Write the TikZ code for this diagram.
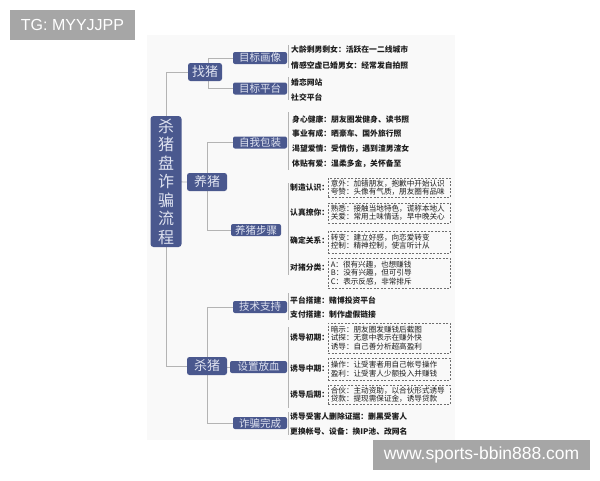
\documentclass[tikz,border=0pt]{standalone}
\usepackage{fontspec}
\newfontfamily\cjk{Noto Sans CJK SC}
\newfontfamily\latf{Liberation Sans}
\usetikzlibrary{backgrounds}
\definecolor{nodeblue}{RGB}{74,88,142}
\definecolor{nodetxt}{RGB}{222,226,240}
\definecolor{linegray}{RGB}{180,180,180}
\definecolor{wmgray}{RGB}{166,166,166}
\definecolor{bggray}{RGB}{249,249,249}
\definecolor{boxline}{RGB}{110,110,110}
\definecolor{leaftxt}{RGB}{30,30,30}
\tikzset{
 conn/.style={draw=linegray, line width=0.8pt},
 mainbox/.style={fill=nodeblue, rounded corners=3pt, text=nodetxt, inner sep=0pt, minimum width=31, minimum height=131, align=center, font=\cjk\fontsize{16}{18.5}\selectfont},
 lvone/.style={fill=nodeblue, rounded corners=2.5pt, text=nodetxt, inner sep=0pt, minimum height=18, font=\cjk\fontsize{13}{13}\selectfont},
 lvtwo/.style={fill=nodeblue, rounded corners=2pt, text=nodetxt, inner sep=0pt, minimum height=12, minimum width=54, font=\cjk\fontsize{10.5}{10.5}\selectfont},
 leaf/.style={anchor=west, inner sep=0pt, text=leaftxt, font=\cjk\bfseries\fontsize{7.8}{8}\selectfont},
 dbox/.style={draw=boxline, dash pattern=on 2pt off 1.5pt, line width=0.6pt, anchor=west, text width=117, inner xsep=2.5pt, inner ysep=1pt, align=left, text=leaftxt, font=\cjk\fontsize{7.6}{8.3}\selectfont},
 wm/.style={fill=wmgray, text=white, inner sep=0pt}
}
\begin{document}
\begin{tikzpicture}[x=1pt,y=-1pt]
\useasboundingbox (0,0) rectangle (600,480);

% main and level one
\node[mainbox] (main) at (166,181.5) {杀\\猪\\盘\\诈\\骗\\流\\程};
\node[lvone, minimum width=34] (zhao) at (205,72) {找猪};
\node[lvone, minimum width=40] (yang) at (207,182) {养猪};
\node[lvone, minimum width=40] (sha) at (207,366) {杀猪};

% level two
\node[lvtwo] (hx) at (260,58) {目标画像};
\node[lvtwo] (pt) at (260,88.5) {目标平台};
\node[lvtwo] (bz) at (260,142.5) {自我包装};
\node[lvtwo, minimum width=50] (bzh) at (256,230) {养猪步骤};
\node[lvtwo] (js) at (260,307) {技术支持};
\node[lvtwo, minimum width=57] (fx) at (258.5,367) {设置放血};
\node[lvtwo] (wc) at (260,423) {诈骗完成};

% leaves
\node[leaf] (a1) at (291,50) {大龄剩男剩女：活跃在一二线城市};
\node[leaf] (a2) at (291,66) {情感空虚已婚男女：经常发自拍照};
\node[leaf] (b1) at (291,82) {婚恋网站};
\node[leaf] (b2) at (291,97) {社交平台};
\node[leaf] (c1) at (292,120) {身心健康：朋友圈发健身、读书照};
\node[leaf] (c2) at (292,134) {事业有成：晒豪车、国外旅行照};
\node[leaf] (c3) at (292,149) {渴望爱情：受情伤，遇到渣男渣女};
\node[leaf] (c4) at (292,164) {体贴有爱：温柔多金，关怀备至};

\node[leaf] (d1) at (290,187.5) {制造认识：};
\node[dbox, minimum height=19] (e1) at (328,187.5) {意外：加错朋友，抱歉中开始认识\\夸赞：头像有气质，朋友圈有品味};
\node[leaf] (d2) at (290,213) {认真撩你：};
\node[dbox, minimum height=20] (e2) at (328,213) {熟悉：接触当地特色，谎称本地人\\关爱：常用土味情话，早中晚关心};
\node[leaf] (d3) at (290,240) {确定关系：};
\node[dbox, minimum height=22] (e3) at (328,242) {转变：建立好感，向恋爱转变\\控制：精神控制，使言听计从};
\node[leaf] (d4) at (290,268) {对猪分类：};
\node[dbox, minimum height=30] (e4) at (328,273) {A：很有兴趣，也想赚钱\\B：没有兴趣，但可引导\\C：表示反感，非常排斥};

\node[leaf] (f1) at (290,300) {平台搭建：赌博投资平台};
\node[leaf] (f2) at (290,315) {支付搭建：制作虚假链接};

\node[leaf] (g1) at (290,338) {诱导初期：};
\node[dbox, minimum height=30] (h1) at (328,338) {暗示：朋友圈发赚钱后截图\\试探：无意中表示在赚外快\\诱导：自己善分析超高盈利};
\node[leaf] (g2) at (290,369) {诱导中期：};
\node[dbox, minimum height=22] (h2) at (328,369) {操作：让受害者用自己帐号操作\\盈利：让受害人少额投入并赚钱};
\node[leaf] (g3) at (290,395) {诱导后期：};
\node[dbox, minimum height=19] (h3) at (328,394.5) {合伙：主动资助，以合伙形式诱导\\贷款：提现需保证金，诱导贷款};

\node[leaf] (k1) at (290,417) {诱导受害人删除证据：删黑受害人};
\node[leaf] (k2) at (290,432) {更换帐号、设备：换IP池、改网名};

% bracket coordinates
\coordinate (p1t) at (288,45);  \coordinate (p1b) at (288,68);
\coordinate (p2t) at (288,77);  \coordinate (p2b) at (288,100);
\coordinate (p3t) at (288,112); \coordinate (p3b) at (288,170);
\coordinate (p4t) at (288,183); \coordinate (p4b) at (288,275);
\coordinate (p5t) at (288,293); \coordinate (p5b) at (288,320);
\coordinate (p6t) at (288,327); \coordinate (p6b) at (288,408);
\coordinate (p7t) at (288,412); \coordinate (p7b) at (288,435);

\begin{scope}[on background layer]
\fill[bggray] (147,35) rectangle (455,440);
\draw[conn] (main.center) |- (zhao.west);
\draw[conn] (main.center) |- (sha.west);
\draw[conn] (main.center) -- (yang.west);
\draw[conn] ([xshift=3]zhao.center) |- (hx.west);
\draw[conn] ([xshift=3]zhao.center) |- (pt.west);
\draw[conn] (yang.center) |- (bz.west);
\draw[conn] (yang.center) |- (bzh.west);
\draw[conn] (sha.center) |- (js.west);
\draw[conn] (sha.center) |- (fx.west);
\draw[conn] (sha.center) |- (wc.west);
\draw[conn] (p1t) -- (p1b);
\draw[conn] (p2t) -- (p2b);
\draw[conn] (p3t) -- (p3b);
\draw[conn] (p4t) -- (p4b);
\draw[conn] (p5t) -- (p5b);
\draw[conn] (p6t) -- (p6b);
\draw[conn] (p7t) -- (p7b);
\end{scope}

% watermark boxes
\node[wm, minimum width=125, minimum height=30, font=\latf\fontsize{16}{16}\selectfont] (tg) at (72.5,25) {TG: MYYJJPP};
\node[wm, minimum width=217, minimum height=30, font=\latf\fontsize{17.5}{17.5}\selectfont] (url) at (481.5,455) {www.sports-bbin888.com};
\end{tikzpicture}
\end{document}
